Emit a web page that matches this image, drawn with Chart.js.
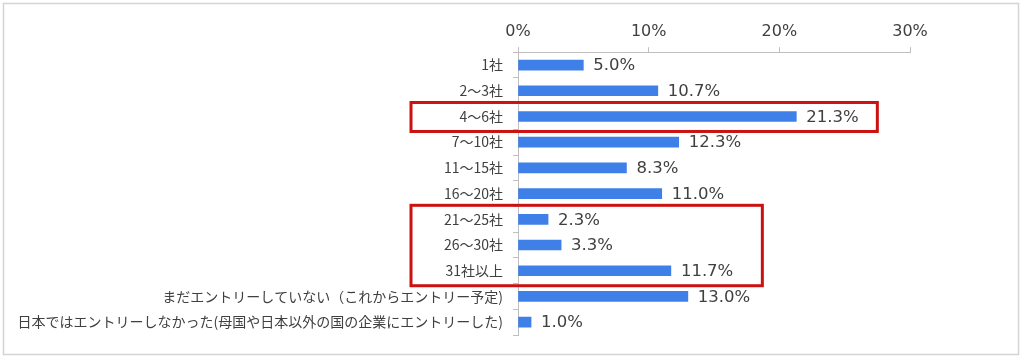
<!DOCTYPE html>
<html>
<head>
<meta charset="utf-8">
<script src="https://cdn.jsdelivr.net/npm/chart.js@4"></script>
<style>
  html, body { margin: 0; padding: 0; background: #fff; }
  #wrap { width: 1024px; height: 361px; }
</style>
</head>
<body>
<div id="wrap"><canvas id="chart" width="1024" height="361"></canvas></div>
<script>
const categories = [
  "1社", "2～3社", "4～6社", "7～10社", "11～15社", "16～20社",
  "21～25社", "26～30社", "31社以上",
  "まだエントリーしていない（これからエントリー予定)",
  "日本ではエントリーしなかった(母国や日本以外の国の企業にエントリーした)"
];
const shares = [5.0, 10.7, 21.3, 12.3, 8.3, 11.0, 2.3, 3.3, 11.7, 13.0, 1.0];
const xTicks = [0, 10, 20, 30];
// red frames: first row, last row, right edge in % units
const boxFrom = [2, 6];
const boxTo = [2, 8];
const boxUpTo = [27.5, 18.7];

const TEXT = "#404040";
const LINE = "#bfbfbf";
const NUMFONT = "16.5px 'DejaVu Sans', Verdana, sans-serif";

const frame = {
  id: "frame",
  beforeDraw(chart) {
    const c = chart.ctx;
    c.save();
    c.strokeStyle = "#d4d4d4";
    c.lineWidth = 1.5;
    c.strokeRect(3.5, 3.5, 1015, 351);
    c.restore();
  }
};

const valueLabels = {
  id: "valueLabels",
  afterDatasetsDraw(chart) {
    const c = chart.ctx;
    const meta = chart.getDatasetMeta(0);
    c.save();
    c.font = NUMFONT;
    c.fillStyle = TEXT;
    c.textBaseline = "middle";
    meta.data.forEach((bar, i) => {
      c.fillText(shares[i].toFixed(1) + "%", bar.x + 10, bar.y + 1);
    });
    c.restore();
  }
};

const redBoxes = {
  id: "redBoxes",
  afterDraw(chart) {
    const c = chart.ctx;
    const x = chart.scales.x;
    const y = chart.scales.y;
    c.save();
    c.strokeStyle = "#cc1111";
    c.lineWidth = 3;
    boxFrom.forEach((a, k) => {
      const top = y.getPixelForValue(a) - 14;
      const bottom = y.getPixelForValue(boxTo[k]) + 15;
      const right = x.getPixelForValue(boxUpTo[k]);
      c.strokeRect(411, top, right - 411, bottom - top);
    });
    c.restore();
  }
};

new Chart(document.getElementById("chart"), {
  type: "bar",
  data: {
    labels: categories,
    datasets: [{
      data: shares,
      backgroundColor: "#3f80e8",
      barThickness: 10
    }]
  },
  options: {
    indexAxis: "y",
    responsive: false,
    animation: false,
    layout: { padding: { left: 8, right: 114, top: 16, bottom: 26 } },
    plugins: { legend: { display: false }, tooltip: { enabled: false } },
    scales: {
      x: {
        position: "top",
        min: 0,
        max: 30,
        afterBuildTicks(s) { s.ticks = xTicks.map(v => ({ value: v })); },
        ticks: {
          color: TEXT,
          font: { family: "'DejaVu Sans', Verdana, sans-serif", size: 16 },
          padding: 6,
          callback: v => v + "%"
        },
        grid: { drawOnChartArea: false, drawTicks: true, tickLength: 5, color: LINE },
        border: { color: LINE }
      },
      y: {
        afterFit(s) { s.width = 510; },
        ticks: {
          color: TEXT,
          font: { family: "'Noto Sans CJK JP', sans-serif", size: 14 },
          padding: 10,
          autoSkip: false
        },
        grid: { offset: true, drawOnChartArea: false, drawTicks: true, tickLength: 5, color: LINE },
        border: { color: LINE }
      }
    }
  },
  plugins: [frame, valueLabels, redBoxes]
});
</script>
</body>
</html>
